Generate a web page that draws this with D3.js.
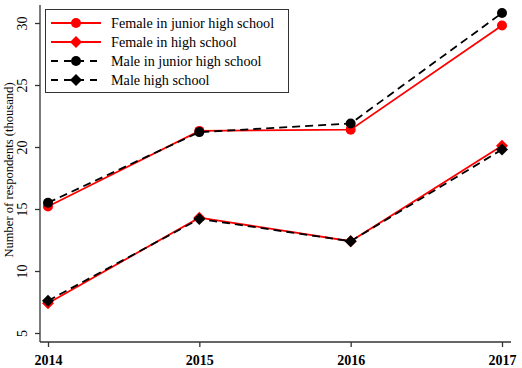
<!DOCTYPE html>
<html>
<head>
<meta charset="utf-8">
<script src="https://cdn.jsdelivr.net/npm/d3@7"></script>
<style>
  body { margin: 0; background: #fff; }
  text { font-family: "Liberation Serif", "DejaVu Serif", serif; }
</style>
</head>
<body>
<svg id="drawing_region"></svg>
<script>
const years = [2014, 2015, 2016, 2017];
const femaleJunior = [15.2, 21.3, 21.4, 29.8];
const femaleHigh = [7.4, 14.3, 12.4, 20.1];
const maleJunior = [15.5, 21.2, 21.9, 30.8];
const maleHigh = [7.6, 14.2, 12.4, 19.8];
const yTicks = [5, 10, 15, 20, 25, 30];

const seriesNames = ['Female in junior high school', 'Female in high school', 'Male in junior high school', 'Male high school'];
const seriesValues = [femaleJunior, femaleHigh, maleJunior, maleHigh];
const seriesColors = ['#ff0000', '#ff0000', '#000000', '#000000'];
const seriesDash = [null, null, '8,5', '8,5'];
const seriesShape = ['circle', 'diamond', 'circle', 'diamond'];

const width = 522, height = 368;
const svg = d3.select('#drawing_region').attr('width', width).attr('height', height);

const xscale = d3.scaleLinear().domain([2014, 2017]).range([48, 502]);
const yscale = d3.scaleLinear().domain([5, 30]).range([333, 23]);

// axes
const xaxis = d3.axisBottom(xscale).tickValues(years).tickFormat(d3.format('d')).tickSize(5).tickSizeOuter(0);
const xg = svg.append('g').attr('transform', 'translate(0,342)').call(xaxis);
xg.select('.domain').attr('d', 'M40,0H511');
xg.selectAll('text').attr('font-size', 14).attr('font-weight', 'bold').attr('dy', '1.05em').attr('fill', '#000');

const yaxis = d3.axisLeft(yscale).tickValues(yTicks).tickSize(5).tickSizeOuter(0);
const yg = svg.append('g').attr('transform', 'translate(40,0)').call(yaxis);
yg.select('.domain').attr('d', 'M0,5V342');
yg.selectAll('.tick text')
  .attr('x', null).attr('dy', null)
  .attr('transform', 'translate(-13,0) rotate(-90)')
  .attr('text-anchor', 'middle')
  .attr('font-size', 14).attr('fill', '#000');
svg.selectAll('.domain, .tick line').attr('stroke', '#333').attr('stroke-width', 1.3);

svg.append('text')
  .attr('transform', 'translate(13,170) rotate(-90)')
  .attr('text-anchor', 'middle')
  .attr('font-size', 12.6)
  .text('Number of respondents (thousand)');

function drawMarker(g, shape, x, y, color) {
  if (shape === 'circle') {
    g.append('circle').attr('cx', x).attr('cy', y).attr('r', 5).attr('fill', color);
  } else {
    g.append('path').attr('d', d3.symbol().type(d3.symbolSquare).size(72)())
      .attr('transform', `translate(${x},${y}) rotate(45)`).attr('fill', color);
  }
}

const line = d3.line().x((d, i) => xscale(years[i])).y(d => yscale(d));
const plot = svg.append('g');
seriesValues.forEach((vals, k) => {
  const g = plot.append('g');
  g.append('path').attr('d', line(vals)).attr('fill', 'none')
    .attr('stroke', seriesColors[k]).attr('stroke-width', 1.8)
    .attr('stroke-dasharray', seriesDash[k]);
  vals.forEach((v, i) => drawMarker(g, seriesShape[k], xscale(years[i]), yscale(v), seriesColors[k]));
});

// legend
const legend = svg.append('g');
legend.append('rect').attr('x', 45.5).attr('y', 9.5).attr('width', 243).attr('height', 83)
  .attr('fill', '#fff').attr('stroke', '#333').attr('stroke-width', 1);
seriesNames.forEach((name, k) => {
  const y = 23 + k * 19;
  const g = legend.append('g');
  g.append('line').attr('x1', 51).attr('x2', 101).attr('y1', y).attr('y2', y)
    .attr('stroke', seriesColors[k]).attr('stroke-width', 1.8)
    .attr('stroke-dasharray', seriesDash[k] ? '7,6' : null);
  drawMarker(g, seriesShape[k], 76, y, seriesColors[k]);
  g.append('text').attr('x', 111).attr('y', y).attr('dy', '0.35em')
    .attr('font-size', 14.2).text(name);
});
</script>
</body>
</html>
